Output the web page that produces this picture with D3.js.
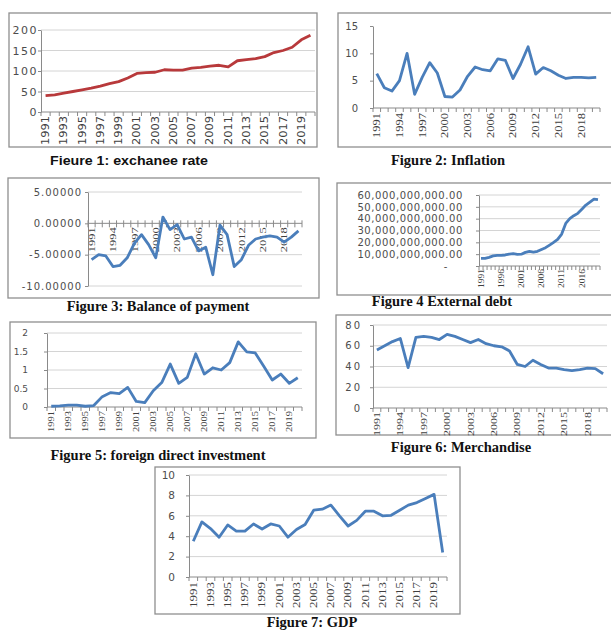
<!DOCTYPE html>
<html>
<head>
<meta charset="utf-8">
<script src="https://cdn.jsdelivr.net/npm/d3@7"></script>
<style>
  body { margin: 0; background: #fff; }
  svg { display: block; }
</style>
</head>
<body>
<svg id="chart" width="611" height="631"></svg>
<script>
// categories shared by every panel
const years = [1991, 1992, 1993, 1994, 1995, 1996, 1997, 1998, 1999, 2000,
               2001, 2002, 2003, 2004, 2005, 2006, 2007, 2008, 2009, 2010,
               2011, 2012, 2013, 2014, 2015, 2016, 2017, 2018, 2019, 2020];

// series values
const exchangeRate = [40, 42, 46, 50, 54, 58, 63, 69, 74, 83, 94, 96, 97, 103, 102,
                      102, 107, 109, 112, 114, 110, 125, 128, 130, 135, 145, 150, 158, 176, 187];
const inflation = [6.3, 3.7, 3.1, 5.0, 10.0, 2.5, 5.6, 8.3, 6.4, 2.1, 2.0, 3.3, 5.8, 7.5, 7.0,
                   6.8, 9.0, 8.7, 5.4, 8.0, 11.2, 6.2, 7.4, 6.8, 6.0, 5.4, 5.6, 5.6, 5.5, 5.6];
const balanceOfPayment = [-5.8, -5.0, -5.2, -6.9, -6.7, -5.5, -3.2, -1.8, -3.4, -5.5, 1.0, -1.0, -0.2, -2.5, -2.2,
                          -4.4, -3.8, -8.2, -0.3, -1.8, -6.9, -5.8, -3.5, -2.5, -2.2, -2.0, -2.2, -3.0, -2.2, -1.2];
const externalDebt = [6.5e9, 6.5e9, 7.3e9, 8.5e9, 9.0e9, 9.0e9, 9.3e9, 10.0e9, 10.4e9, 9.9e9,
                      10.0e9, 11.5e9, 12.4e9, 11.8e9, 12.4e9, 14.0e9, 15.5e9, 17.7e9, 20.0e9, 22.5e9,
                      27.0e9, 36.0e9, 40.0e9, 42.5e9, 44.5e9, 48.0e9, 51.5e9, 54.0e9, 56.5e9, 56.0e9];
const fdi = [0.02, 0.03, 0.05, 0.05, 0.02, 0.04, 0.28, 0.39, 0.36, 0.53, 0.15, 0.12, 0.44, 0.66, 1.16,
             0.64, 0.80, 1.44, 0.89, 1.06, 1.00, 1.20, 1.76, 1.49, 1.46, 1.10, 0.73, 0.89, 0.64, 0.79];
const merchandise = [56, 60, 64, 67, 39, 68, 69, 68, 66, 71, 69, 66, 63, 66, 62,
                     60, 59, 55, 42, 40, 46, 42, 38.5, 38.5, 37, 36, 37, 38.5, 38, 33];
const gdp = [3.5, 5.4, 4.75, 3.9, 5.1, 4.5, 4.5, 5.2, 4.7, 5.2, 5.0, 3.9, 4.65, 5.15, 6.55,
             6.65, 7.05, 6.0, 5.0, 5.55, 6.45, 6.45, 6.0, 6.05, 6.55, 7.05, 7.3, 7.7, 8.1, 2.4];

// y tick values
const exchangeTicks = [0, 50, 100, 150, 200];
const inflationTicks = [0, 5, 10, 15];
const balanceTicks = [-10, -5, 0, 5];
const debtTicks = [0, 10e9, 20e9, 30e9, 40e9, 50e9, 60e9];
const fdiTicks = [0, 0.5, 1, 1.5, 2];
const merchandiseTicks = [0, 20, 40, 60, 80];
const gdpTicks = [0, 2, 4, 6, 8, 10];

// figure captions (kept as in the source, typos included)
const titles = ["Fieure 1: exchanee rate", "Figure 2: Inflation", "Figure 3: Balance of payment",
                "Figure 4 External debt", "Figure 5: foreign direct investment",
                "Figure 6: Merchandise", "Figure 7: GDP"];

const svg = d3.select("#chart");
const blue = "#4a7ebb";
const hyphen = s => s.replace("\u2212", "-");

function drawPanel(p) {
    const g = svg.append("g");

    // frame round the chart
    g.append("rect")
        .attr("x", p.box[0]).attr("y", p.box[1])
        .attr("width", p.box[2]).attr("height", p.box[3])
        .attr("fill", "none")
        .attr("stroke", "#8f8f8f")
        .attr("stroke-width", 1.3);

    const x = d3.scaleBand().domain(years).range([p.left, p.right]);
    const y = d3.scaleLinear().domain(d3.extent(p.ticks)).range([p.bottom, p.top]);
    const bw = x.bandwidth();

    // gridlines
    if (p.grid) {
        g.append("g").selectAll("line")
            .data(p.ticks.filter(t => t !== p.base))
            .join("line")
            .attr("x1", p.left).attr("x2", p.right)
            .attr("y1", d => y(d)).attr("y2", d => y(d))
            .attr("stroke", "#d4d4d4")
            .attr("stroke-width", 1);
    }

    // y axis
    const yAxis = g.append("g")
        .attr("transform", `translate(${p.left},0)`)
        .call(d3.axisLeft(y).tickValues(p.ticks).tickSize(3).tickSizeOuter(0)
            .tickPadding(p.yPad).tickFormat(p.yFormat));
    yAxis.selectAll("path, line").attr("stroke", "#8a8a8a");
    yAxis.selectAll("text")
        .attr("fill", "#4d4d4d")
        .style("font-family", "DejaVu Sans")
        .style("font-size", p.yFontSize + "px")
        .style("letter-spacing", (p.yLetter || 0) + "px")
        .style("white-space", "pre");

    // category axis
    const baseY = y(p.base);
    g.append("line")
        .attr("x1", p.left).attr("x2", p.right)
        .attr("y1", baseY).attr("y2", baseY)
        .attr("stroke", "#8a8a8a");

    const bounds = years.map(d => x(d)).concat([p.right]);
    g.append("g").selectAll("line")
        .data(bounds)
        .join("line")
        .attr("x1", d => d).attr("x2", d => d)
        .attr("y1", baseY + (p.tickUp || 0)).attr("y2", baseY + 4)
        .attr("stroke", "#8a8a8a");

    g.append("g").selectAll("text")
        .data(years.filter((d, i) => i % p.step === 0))
        .join("text")
        .attr("transform", d => `translate(${x(d) + bw / 2},${baseY + p.labelGap}) rotate(-90)`)
        .attr("text-anchor", "end")
        .attr("dy", "0.35em")
        .attr("textLength", p.labelLen)
        .attr("lengthAdjust", "spacingAndGlyphs")
        .attr("fill", "#404040")
        .style("font-family", p.labelFont)
        .style("font-size", p.labelSize + "px")
        .text(d => d);

    // the series
    const line = d3.line()
        .x((d, i) => x(years[i]) + bw / 2)
        .y(d => y(d));

    g.append("path")
        .datum(p.values)
        .attr("d", line)
        .attr("fill", "none")
        .attr("stroke", p.color)
        .attr("stroke-width", 2.8)
        .attr("stroke-linejoin", "round");

    // caption
    const t = g.append("text")
        .attr("x", p.titleX).attr("y", p.titleY)
        .attr("text-anchor", "middle")
        .attr("fill", "#111")
        .style("font-family", p.titleFont)
        .style("font-weight", "bold")
        .style("font-size", p.titleSize + "px")
        .text(p.title);
    if (p.titleLen) t.attr("textLength", p.titleLen).attr("lengthAdjust", "spacingAndGlyphs");
}

const serif = "Liberation Serif";

drawPanel({ values: exchangeRate, ticks: exchangeTicks, base: 0, title: titles[0],
    box: [9, 13, 308, 134], left: 41, right: 315, top: 30, bottom: 112,
    grid: true, color: "#b8393b", step: 2,
    labelFont: "DejaVu Sans", labelSize: 10, labelLen: 29, labelGap: 4,
    yFormat: d3.format("d"), yPad: 0, yFontSize: 11, yLetter: 1.5,
    titleX: 129, titleY: 165, titleFont: "Liberation Sans", titleSize: 13.5, titleLen: 158 });

drawPanel({ values: inflation, ticks: inflationTicks, base: 0, title: titles[1],
    box: [338, 13, 290, 134], left: 373, right: 600, top: 26, bottom: 108,
    grid: false, color: blue, step: 3,
    labelFont: serif, labelSize: 10, labelLen: 25, labelGap: 5,
    yFormat: d3.format("d"), yPad: 12, yFontSize: 10,
    titleX: 448, titleY: 165, titleFont: serif, titleSize: 14.5 });

drawPanel({ values: balanceOfPayment, ticks: balanceTicks, base: 0, title: titles[2],
    box: [8, 178, 311, 120], left: 88, right: 302, top: 192, bottom: 286,
    grid: true, color: blue, step: 3, tickUp: -3,
    labelFont: serif, labelSize: 9, labelLen: 25, labelGap: 4,
    yFormat: d => hyphen(d3.format(".5f")(d)), yPad: 3, yFontSize: 10, yLetter: 1,
    titleX: 158, titleY: 311, titleFont: serif, titleSize: 14.5 });

drawPanel({ values: externalDebt, ticks: debtTicks, base: 0, title: titles[3],
    box: [337, 183, 290, 112], left: 479, right: 600, top: 195, bottom: 266,
    grid: true, color: blue, step: 5,
    labelFont: serif, labelSize: 8, labelLen: 19, labelGap: 3,
    yFormat: d => d === 0 ? "-    " : d3.format(",.2f")(d), yPad: 13, yFontSize: 10, yLetter: 0.6,
    titleX: 442, titleY: 306, titleFont: serif, titleSize: 14.5 });

drawPanel({ values: fdi, ticks: fdiTicks, base: 0, title: titles[4],
    box: [10, 322, 306, 116], left: 47, right: 302, top: 333, bottom: 407,
    grid: true, color: blue, step: 2,
    labelFont: serif, labelSize: 8.5, labelLen: 21, labelGap: 4,
    yFormat: d3.format(""), yPad: 16, yFontSize: 9,
    titleX: 158, titleY: 460, titleFont: serif, titleSize: 14.5 });

drawPanel({ values: merchandise, ticks: merchandiseTicks, base: 0, title: titles[5],
    box: [336, 315, 290, 120], left: 373, right: 607, top: 325, bottom: 408,
    grid: true, color: blue, step: 3,
    labelFont: serif, labelSize: 9, labelLen: 24, labelGap: 4,
    yFormat: d3.format("d"), yPad: 8, yFontSize: 10, yLetter: 2,
    titleX: 461, titleY: 452, titleFont: serif, titleSize: 14.5 });

drawPanel({ values: gdp, ticks: gdpTicks, base: 0, title: titles[6],
    box: [155, 467, 305, 147], left: 189, right: 447, top: 475, bottom: 577,
    grid: true, color: blue, step: 2,
    labelFont: serif, labelSize: 9.5, labelLen: 26, labelGap: 5,
    yFormat: d3.format("d"), yPad: 11, yFontSize: 10.5,
    titleX: 312, titleY: 627, titleFont: serif, titleSize: 14.5 });
</script>
</body>
</html>
